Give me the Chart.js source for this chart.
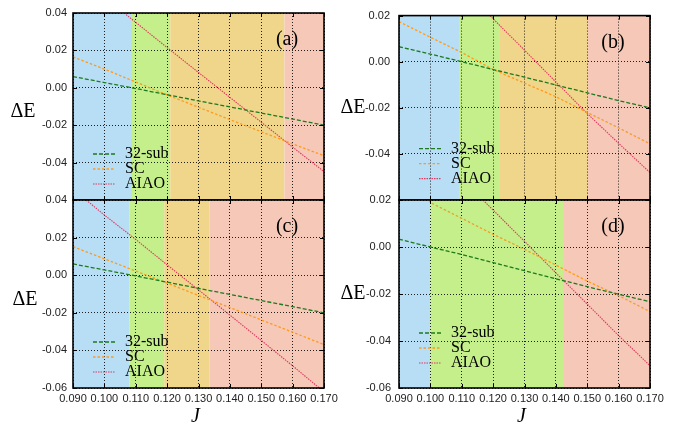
<!DOCTYPE html>
<html>
<head>
<meta charset="utf-8">
<script src="https://cdn.jsdelivr.net/npm/chart.js@4.4.1/dist/chart.umd.min.js"></script>
<style>
  body { margin: 0; background: #fff; }
  #wrap { position: relative; width: 676px; height: 422px; }
  #wrap canvas { position: absolute; left: 0; top: 0; }
</style>
</head>
<body>
<div id="wrap">
  <canvas id="pa" width="676" height="422"></canvas>
  <canvas id="pb" width="676" height="422"></canvas>
  <canvas id="pc" width="676" height="422"></canvas>
  <canvas id="pd" width="676" height="422"></canvas>
</div>
<script>
// J grid shared by most curves
const J = [0.09, 0.10, 0.11, 0.12, 0.13, 0.14, 0.15, 0.16, 0.17];
const seriesNames = ['32-sub', 'SC', 'AIAO'];

// (a)
const sub32A = [0.0060, 0.0028, -0.0004, -0.0037, -0.0070, -0.0102, -0.0135, -0.0167, -0.0200];
const scA = [0.0165, 0.0100, 0.0031, -0.0038, -0.0104, -0.0170, -0.0235, -0.0300, -0.0363];
const aiaoAJ = [0.1063, 0.11, 0.12, 0.13, 0.14, 0.15, 0.16, 0.17];
const aiaoA = [0.0400, 0.0350, 0.0215, 0.0082, -0.0051, -0.0184, -0.0317, -0.0448];
const phaseA = [0.1088, 0.1210, 0.1574];

// (b)
const sub32B = [0.0065, 0.0033, 0.0000, -0.0034, -0.0067, -0.0101, -0.0135, -0.0169, -0.0200];
const scB = [0.0174, 0.0106, 0.0040, -0.0034, -0.0093, -0.0152, -0.0220, -0.0287, -0.0356];
const aiaoBJ = [0.119, 0.12, 0.13, 0.14, 0.15, 0.16, 0.17];
const aiaoB = [0.0200, 0.0186, 0.0050, -0.0088, -0.0225, -0.0354, -0.0481];
const phaseB = [0.1094, 0.1219, 0.1502];

// (c)
const sub32C = [0.0060, 0.0028, -0.0004, -0.0037, -0.0070, -0.0102, -0.0135, -0.0167, -0.0200];
const scC = [0.0152, 0.0087, 0.0022, -0.0042, -0.0108, -0.0172, -0.0238, -0.0303, -0.0369];
const aiaoCJ = [0.0942, 0.10, 0.11, 0.12, 0.13, 0.14, 0.15, 0.16, 0.1685];
const aiaoC = [0.0400, 0.0320, 0.0190, 0.0055, -0.0078, -0.0212, -0.0347, -0.0482, -0.0600];
const phaseC = [0.1080, 0.1191, 0.1335];

// (d)
const sub32D = [0.0033, 0.0000, -0.0032, -0.0066, -0.0101, -0.0135, -0.0169, -0.0201, -0.0233];
const scDJ = [0.0995, 0.10, 0.11, 0.12, 0.13, 0.14, 0.15, 0.16, 0.17];
const scD = [0.0200, 0.0189, 0.0122, 0.0054, -0.0010, -0.0077, -0.0145, -0.0207, -0.0275];
const aiaoDJ = [0.1168, 0.12, 0.13, 0.14, 0.15, 0.16, 0.17];
const aiaoD = [0.0200, 0.0157, 0.0024, -0.0110, -0.0243, -0.0377, -0.0505];
const phaseD = [0.1000, 0.1423];

const BLUE = '#b8def5', GREEN = '#c4ef8a', TAN = '#f0d68a', PINK = '#f6c8b7';
const SERIF = '"Liberation Serif", "DejaVu Serif", serif';
const SANS = '"Liberation Sans", Arial, sans-serif';
const Y_AXIS_W = 60, X_AXIS_H = 30;

function xy(xs, ys) {
    return xs.map((x, i) => ({ x: x, y: ys[i] }));
}

// backgrounds, frame, legend and labels
const panelPlugin = {
    id: 'panel',
    beforeDraw(chart, args, o) {
        const ctx = chart.ctx, a = chart.chartArea, xs = chart.scales.x;
        const edges = [xs.min].concat(o.edges, [xs.max]);
        ctx.save();
        for (let i = 0; i < o.colors.length; i++) {
            const x1 = xs.getPixelForValue(edges[i]);
            const x2 = xs.getPixelForValue(edges[i + 1]);
            ctx.fillStyle = o.colors[i];
            ctx.fillRect(x1, a.top, x2 - x1, a.bottom - a.top);
        }
        ctx.restore();
    },
    afterDatasetsDraw(chart, args, o) {
        const ctx = chart.ctx, a = chart.chartArea;
        ctx.save();
        // inward tick marks
        ctx.strokeStyle = '#000';
        ctx.lineWidth = 1;
        ctx.beginPath();
        chart.scales.x.ticks.forEach(t => {
            const p = Math.round(chart.scales.x.getPixelForValue(t.value)) + 0.5;
            ctx.moveTo(p, a.top); ctx.lineTo(p, a.top + 4);
            ctx.moveTo(p, a.bottom); ctx.lineTo(p, a.bottom - 4);
        });
        chart.scales.y.ticks.forEach(t => {
            const p = Math.round(chart.scales.y.getPixelForValue(t.value)) + 0.5;
            ctx.moveTo(a.left, p); ctx.lineTo(a.left + 4, p);
            ctx.moveTo(a.right, p); ctx.lineTo(a.right - 4, p);
        });
        ctx.stroke();
        // frame
        ctx.lineWidth = 1.6;
        ctx.strokeRect(a.left, a.top, a.right - a.left, a.bottom - a.top);

        // legend
        ctx.font = '16px ' + SERIF;
        ctx.textBaseline = 'middle';
        ctx.fillStyle = '#000';
        chart.data.datasets.forEach((ds, i) => {
            const y = a.top + o.legendTop + i * 15;
            ctx.strokeStyle = ds.borderColor;
            ctx.lineWidth = ds.borderWidth;
            ctx.setLineDash(ds.borderDash);
            ctx.beginPath();
            ctx.moveTo(a.left + 20, y);
            ctx.lineTo(a.left + 42, y);
            ctx.stroke();
            ctx.setLineDash([]);
            ctx.fillText(ds.label, a.left + 52, y);
        });

        // panel tag
        ctx.font = '20px ' + SERIF;
        ctx.textAlign = 'center';
        ctx.fillText(o.tag, a.right - 37, a.top + 27);

        // y title
        ctx.font = '20px ' + SERIF;
        ctx.fillText('\u0394E', a.left + o.yTitleDx, (a.top + a.bottom) / 2 + o.yTitleDy);

        // x title
        if (o.xTitle) {
            ctx.font = 'italic 20px ' + SERIF;
            ctx.fillText('J', (a.left + a.right) / 2 - 3, a.bottom + 29);
        }
        ctx.restore();
    }
};

function makePanel(id, p) {
    const yMin = p.yMin, yMax = p.yMax;
    const xh = p.showX ? X_AXIS_H : 0;
    return new Chart(document.getElementById(id), {
        type: 'line',
        data: {
            datasets: [
                { label: seriesNames[0], data: p.sub32, borderColor: '#1e7a1e', borderWidth: 1.3, borderDash: [4, 2] },
                { label: seriesNames[1], data: p.sc, borderColor: '#ff9a1c', borderWidth: 1.3, borderDash: [2.5, 2] },
                { label: seriesNames[2], data: p.aiao, borderColor: '#de3a62', borderWidth: 1.1, borderDash: [1.5, 1] }
            ]
        },
        options: {
            responsive: false,
            animation: false,
            devicePixelRatio: 1,
            layout: {
                padding: {
                    left: p.area.left - Y_AXIS_W,
                    right: 676 - p.area.right,
                    top: p.area.top,
                    bottom: 422 - p.area.bottom - xh
                }
            },
            elements: { point: { radius: 0 }, line: { tension: 0, fill: false } },
            plugins: {
                legend: { display: false },
                tooltip: { enabled: false },
                panel: {
                    edges: p.edges, colors: p.colors, tag: p.tag, legendTop: p.legendTop,
                    xTitle: p.showX, yTitleDx: p.yTitleDx, yTitleDy: p.yTitleDy
                }
            },
            scales: {
                x: {
                    type: 'linear', min: 0.09, max: 0.17,
                    afterFit: s => { s.height = xh; },
                    border: { display: false, dash: [1, 2] },
                    grid: { color: 'rgba(0,0,0,0.85)', lineWidth: 1, drawTicks: false },
                    ticks: {
                        display: p.showX, stepSize: 0.01, padding: 4, maxRotation: 0,
                        color: '#222', font: { family: SANS, size: 11 },
                        callback: v => v.toFixed(3)
                    }
                },
                y: {
                    min: yMin, max: yMax,
                    afterFit: s => { s.width = Y_AXIS_W; },
                    border: { display: false, dash: [1, 2] },
                    grid: { color: 'rgba(0,0,0,0.85)', lineWidth: 1, drawTicks: false },
                    ticks: {
                        stepSize: 0.02, padding: p.tickPad,
                        color: '#222', font: { family: SANS, size: 11 },
                        callback: v => {
                            if (p.hideMin && Math.abs(v - yMin) < 1e-9) return '';
                            return Math.abs(v) < 1e-9 ? '0.00' : v.toFixed(2);
                        }
                    }
                }
            }
        },
        plugins: [panelPlugin]
    });
}

makePanel('pa', {
    area: { left: 73, right: 324, top: 13, bottom: 200 }, yMin: -0.06, yMax: 0.04,
    sub32: xy(J, sub32A), sc: xy(J, scA), aiao: xy(aiaoAJ, aiaoA),
    edges: phaseA, colors: [BLUE, GREEN, TAN, PINK], tag: '(a)',
    legendTop: 141, showX: false, hideMin: true, tickPad: 6, yTitleDx: -50, yTitleDy: 5
});
makePanel('pb', {
    area: { left: 399, right: 650, top: 13, bottom: 200 }, yMin: -0.06, yMax: 0.02,
    sub32: xy(J, sub32B), sc: xy(J, scB), aiao: xy(aiaoBJ, aiaoB),
    edges: phaseB, colors: [BLUE, GREEN, TAN, PINK], tag: '(b)',
    legendTop: 133, showX: false, hideMin: true, tickPad: 9, yTitleDx: -46, yTitleDy: 0
});
makePanel('pc', {
    area: { left: 73, right: 324, top: 200, bottom: 388 }, yMin: -0.06, yMax: 0.04,
    sub32: xy(J, sub32C), sc: xy(J, scC), aiao: xy(aiaoCJ, aiaoC),
    edges: phaseC, colors: [BLUE, GREEN, TAN, PINK], tag: '(c)',
    legendTop: 142, showX: true, hideMin: false, tickPad: 6, yTitleDx: -48, yTitleDy: 6
});
makePanel('pd', {
    area: { left: 399, right: 650, top: 200, bottom: 388 }, yMin: -0.06, yMax: 0.02,
    sub32: xy(J, sub32D), sc: xy(scDJ, scD), aiao: xy(aiaoDJ, aiaoD),
    edges: phaseD, colors: [BLUE, GREEN, PINK], tag: '(d)',
    legendTop: 133, showX: true, hideMin: false, tickPad: 8, yTitleDx: -46, yTitleDy: 0
});
</script>
</body>
</html>
